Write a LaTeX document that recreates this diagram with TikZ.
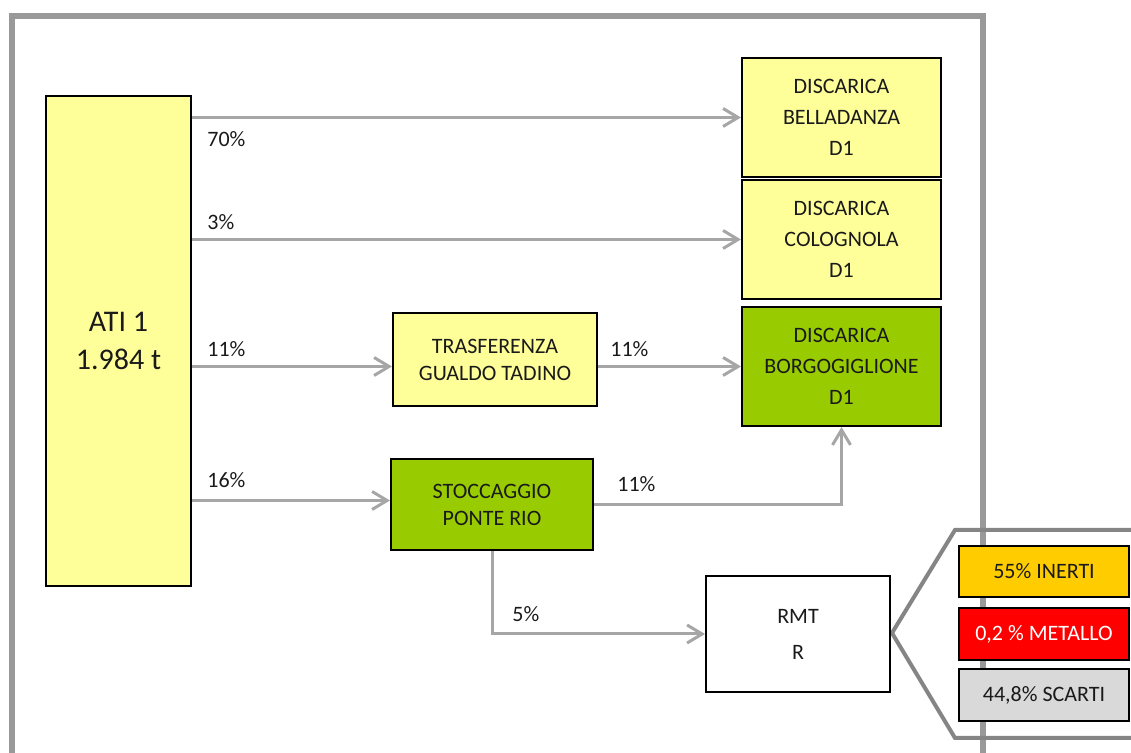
\documentclass[tikz,border=0pt]{standalone}
\usepackage{fontspec}
\setmainfont{Carlito}
\usetikzlibrary{arrows.meta,calc}
\definecolor{lyel}{HTML}{FFFF99}
\definecolor{lgreen}{HTML}{99CC00}
\definecolor{arrgray}{HTML}{A6A6A6}
\definecolor{framegray}{HTML}{999999}
\definecolor{callgray}{HTML}{858585}
\definecolor{inerti}{HTML}{FFCC00}
\definecolor{metallo}{HTML}{FF0000}
\definecolor{scarti}{HTML}{D9D9D9}
\definecolor{txt}{HTML}{1A1A1A}
\begin{document}
\begin{tikzpicture}[x=0.5pt,y=-0.5pt,
  box/.style={draw=black,line width=1pt,inner sep=0pt,align=center,text=txt,
    font=\fontsize{11}{15.5}\selectfont},
  arr/.style={draw=arrgray,line width=1.5pt,-{Straight Barb[length=7.5pt,width=9pt,line width=1.5pt]}},
  pct/.style={anchor=base west,inner sep=0pt,text=txt,font=\fontsize{11}{13}\selectfont},
  outbox/.style={draw=black,line width=1pt,inner sep=0pt,align=center,
    minimum width=85pt,minimum height=25.75pt,font=\fontsize{11}{13}\selectfont}]
\useasboundingbox (0,0) rectangle (1131,753);
\clip (0,0) rectangle (1131,753);
% outer frame
\draw[framegray,line width=3pt] (12,800) -- (12,16) -- (983,16) -- (983,800);
% callout outline
\draw[callgray,line width=2pt,line join=miter] (1140,530) -- (955,530) -- (892,633) -- (955,738) -- (1140,738);
% nodes
\node[box,fill=lyel,minimum width=72.5pt,minimum height=245pt,
  font=\fontsize{15}{19}\selectfont] (ati) at (118.5,341) {ATI 1\\1.984 t};
\node[box,fill=lyel,minimum width=99.5pt,minimum height=59.5pt] (bel) at (841.5,117.5) {DISCARICA\\BELLADANZA\\D1};
\node[box,fill=lyel,minimum width=99.5pt,minimum height=59.5pt] (col) at (841.5,239.5) {DISCARICA\\COLOGNOLA\\D1};
\node[box,fill=lgreen,minimum width=99.5pt,minimum height=59.5pt] (bor) at (841.5,366.5) {DISCARICA\\BORGOGIGLIONE\\D1};
\node[box,fill=lyel,minimum width=102pt,minimum height=46.5pt,
  font=\fontsize{11}{13.5}\selectfont] (tras) at (495,359.5) {TRASFERENZA\\GUALDO TADINO};
\node[box,fill=lgreen,minimum width=101pt,minimum height=45.5pt,
  font=\fontsize{11}{13.5}\selectfont] (stoc) at (492,504.5) {STOCCAGGIO\\PONTE RIO};
\node[box,fill=white,minimum width=92pt,minimum height=58pt,
  font=\fontsize{11}{18}\selectfont] (rmt) at (798,634) {RMT\\R};
\node[outbox,fill=inerti,text=txt] (ine) at (1044,571.5) {55\% INERTI};
\node[outbox,fill=metallo,text=white,minimum height=26pt] (met) at (1044,634) {0,2 \% METALLO};
\node[outbox,fill=scarti,text=txt,minimum height=26pt] (sca) at (1044,695) {44,8\% SCARTI};
% connectors
\draw[arr] (ati.east |- bel.west) -- (bel.west);
\draw[arr] (ati.east |- col.west) -- (col.west);
\draw[arr] (ati.east |- bor.west) -- (tras.west |- bor.west);
\draw[arr] (tras.east |- bor.west) -- (bor.west);
\draw[arr] ([yshift=2pt]ati.east |- stoc.west) -- ([yshift=2pt]stoc.west);
\draw[arr] (stoc.east) -| (bor.south);
\draw[arr] (stoc.south) |- (rmt.west);
% labels
\node[pct] (l70) at (207,147) {70\%};
\node[pct] (l3) at (207,230) {3\%};
\node[pct] (l11a) at (207,357) {11\%};
\node[pct] (l11b) at (610,357) {11\%};
\node[pct] (l16) at (207,488) {16\%};
\node[pct] (l11c) at (617,492) {11\%};
\node[pct] (l5) at (512,622) {5\%};
\end{tikzpicture}
\end{document}
